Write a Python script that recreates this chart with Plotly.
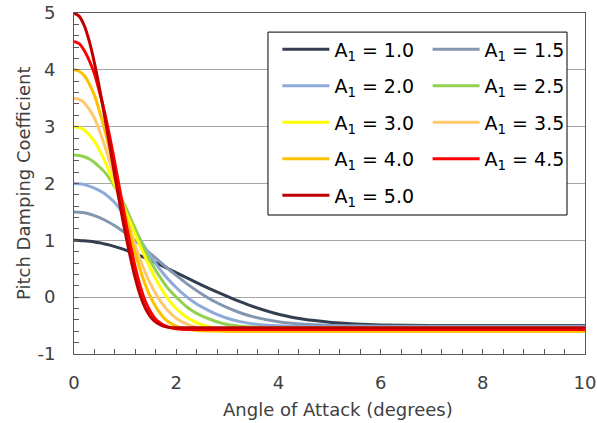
import plotly.graph_objects as go

# Angle of attack sample points (degrees)
alpha = [0.0, 0.1, 0.2, 0.3, 0.4, 0.5, 0.6, 0.7, 0.8, 0.9,
         1.0, 1.1, 1.2, 1.3, 1.4, 1.5, 1.6, 1.7, 1.8, 1.9,
         2.0, 2.1, 2.2, 2.3, 2.4, 2.5, 2.75, 3.0, 3.25, 3.5,
         4.0, 4.5, 5.0, 5.5, 6.0, 7.0, 8.0, 10.0]

a1_labels = ["1.0", "1.5", "2.0", "2.5", "3.0", "3.5", "4.0", "4.5", "5.0"]

cd_a1_10 = [1.000, 0.998, 0.993, 0.984, 0.972, 0.956, 0.937, 0.915, 0.890, 0.862,
            0.832, 0.799, 0.764, 0.727, 0.688, 0.648, 0.606, 0.563, 0.520, 0.476,
            0.432, 0.388, 0.343, 0.299, 0.256, 0.213, 0.110, 0.014, -0.080, -0.165,
            -0.300, -0.390, -0.440, -0.470, -0.488, -0.498, -0.500, -0.500]
cd_a1_15 = [1.500, 1.496, 1.484, 1.464, 1.436, 1.401, 1.358, 1.310, 1.255, 1.195,
            1.131, 1.062, 0.991, 0.917, 0.841, 0.763, 0.686, 0.608, 0.532, 0.456,
            0.383, 0.311, 0.243, 0.177, 0.115, 0.056, -0.077, -0.186, -0.274, -0.343,
            -0.432, -0.477, -0.497, -0.505, -0.510, -0.510, -0.510, -0.510]
cd_a1_20 = [2.000, 1.995, 1.980, 1.955, 1.920, 1.875, 1.820, 1.745, 1.660, 1.550,
            1.430, 1.295, 1.150, 1.005, 0.860, 0.720, 0.590, 0.470, 0.360, 0.260,
            0.170, 0.085, 0.010, -0.060, -0.120, -0.170, -0.285, -0.370, -0.430, -0.470,
            -0.505, -0.517, -0.520, -0.520, -0.520, -0.520, -0.520, -0.520]
cd_a1_25 = [2.500, 2.492, 2.470, 2.430, 2.370, 2.290, 2.200, 2.080, 1.940, 1.780,
            1.600, 1.400, 1.200, 1.000, 0.800, 0.625, 0.470, 0.330, 0.200, 0.095,
            0.000, -0.085, -0.165, -0.230, -0.285, -0.330, -0.420, -0.480, -0.510, -0.525,
            -0.537, -0.540, -0.540, -0.540, -0.540, -0.540, -0.540, -0.540]
cd_a1_30 = [3.000, 2.985, 2.940, 2.855, 2.740, 2.580, 2.400, 2.190, 1.970, 1.750,
            1.530, 1.315, 1.100, 0.890, 0.690, 0.500, 0.320, 0.160, 0.020, -0.100,
            -0.200, -0.280, -0.350, -0.405, -0.450, -0.485, -0.540, -0.565, -0.575, -0.580,
            -0.580, -0.580, -0.580, -0.580, -0.580, -0.580, -0.580, -0.580]
cd_a1_35 = [3.500, 3.480, 3.420, 3.305, 3.150, 2.925, 2.670, 2.380, 2.080, 1.775,
            1.470, 1.180, 0.900, 0.645, 0.420, 0.225, 0.060, -0.080, -0.200, -0.295,
            -0.370, -0.425, -0.470, -0.505, -0.530, -0.550, -0.580, -0.593, -0.598, -0.600,
            -0.600, -0.600, -0.600, -0.600, -0.600, -0.600, -0.600, -0.600]
cd_a1_40 = [4.000, 3.975, 3.900, 3.750, 3.550, 3.270, 2.950, 2.585, 2.200, 1.825,
            1.450, 1.095, 0.760, 0.470, 0.210, 0.000, -0.170, -0.300, -0.400, -0.465,
            -0.510, -0.540, -0.560, -0.575, -0.585, -0.590, -0.597, -0.600, -0.600, -0.600,
            -0.600, -0.600, -0.600, -0.600, -0.600, -0.600, -0.600, -0.600]
cd_a1_45 = [4.500, 4.460, 4.340, 4.160, 3.930, 3.610, 3.250, 2.820, 2.360, 1.870,
            1.380, 0.930, 0.520, 0.180, -0.080, -0.260, -0.390, -0.465, -0.510, -0.540,
            -0.555, -0.563, -0.568, -0.570, -0.570, -0.570, -0.570, -0.570, -0.570, -0.570,
            -0.570, -0.570, -0.570, -0.570, -0.570, -0.570, -0.570, -0.570]
cd_a1_50 = [5.000, 4.945, 4.780, 4.500, 4.120, 3.670, 3.180, 2.660, 2.130, 1.620,
            1.150, 0.715, 0.330, 0.020, -0.200, -0.350, -0.440, -0.490, -0.520, -0.535,
            -0.540, -0.540, -0.540, -0.540, -0.540, -0.540, -0.540, -0.540, -0.540, -0.540,
            -0.540, -0.540, -0.540, -0.540, -0.540, -0.540, -0.540, -0.540]

series = [cd_a1_10, cd_a1_15, cd_a1_20, cd_a1_25, cd_a1_30, cd_a1_35, cd_a1_40, cd_a1_45, cd_a1_50]
colors = ["#333F50", "#8497B0", "#8EAADB", "#92D050", "#FFFF00", "#FFC96B", "#FFC000", "#FF0000", "#C00000"]

y_tickvals = [-1, 0, 1, 2, 3, 4, 5]
y_ticktext = ["-1", "0", "1", "2", "3", "4", "5"]

FONT = "Verdana, DejaVu Sans, sans-serif"
TXT = "#404040"
AX = "#595959"

fig = go.Figure()
for i, (lab, vals, col) in enumerate(zip(a1_labels, series, colors)):
    fig.add_trace(go.Scatter(
        x=alpha, y=vals, mode="lines",
        line=dict(color=col, width=3, shape="spline", smoothing=0.6),
        name=f"A<sub>1</sub> = {lab}",
        legend="legend" if i % 2 == 0 else "legend2",
        legendgroup=f"g{i}",
    ))

legend_common = dict(
    xanchor="left", yanchor="top", bgcolor="rgba(0,0,0,0)", borderwidth=0,
    font=dict(family=FONT, size=19, color="#000000"),
    tracegroupgap=8.8, itemwidth=47,
)

fig.update_layout(
    width=597, height=423,
    margin=dict(l=74, r=12, t=13, b=69, autoexpand=False),
    paper_bgcolor="white", plot_bgcolor="white",
    font=dict(family=FONT, size=18, color=TXT),
    legend=dict(x=0.398, y=0.9487, **legend_common),
    legend2=dict(x=0.692, y=0.9487, **legend_common),
    shapes=[dict(type="rect", xref="paper", yref="paper",
                 x0=0.3796, x1=0.9648, y0=0.4076, y1=0.944,
                 line=dict(color="#000000", width=1), fillcolor="white", layer="above")],
    annotations=[
        dict(text="Angle of Attack (degrees)", xref="paper", yref="paper",
             x=0.5166, y=-0.1613, xanchor="center", yanchor="middle", showarrow=False,
             font=dict(family=FONT, size=18, color=TXT)),
        dict(text="Pitch Damping Coefficient", xref="paper", yref="paper",
             x=-0.0988, y=0.5, xanchor="center", yanchor="middle", showarrow=False,
             textangle=-90, font=dict(family=FONT, size=18, color=TXT)),
    ],
    xaxis=dict(
        range=[0, 10], tick0=0, dtick=2, ticks="inside", ticklen=5, tickcolor=AX,
        showline=True, linecolor=AX, linewidth=1, mirror=True,
        showgrid=False, zeroline=False, automargin=False,
        minor=dict(dtick=0.4, tick0=0, ticks="inside", ticklen=5, tickcolor=AX, showgrid=False),
        tickfont=dict(family=FONT, size=18, color=TXT),
        ticklabelstandoff=12,
    ),
    yaxis=dict(
        range=[-1, 5], tickmode="array", tickvals=y_tickvals, ticktext=y_ticktext,
        ticks="inside", ticklen=5, tickcolor=AX,
        showline=True, linecolor=AX, linewidth=1, mirror=True,
        showgrid=True, gridcolor="#A6A6A6", gridwidth=1, zeroline=False, automargin=False,
        minor=dict(dtick=0.2, tick0=0, ticks="inside", ticklen=5, tickcolor=AX, showgrid=False),
        tickfont=dict(family=FONT, size=18, color=TXT),
        ticklabelstandoff=14,
    ),
)

fig.write_html("out.html")
